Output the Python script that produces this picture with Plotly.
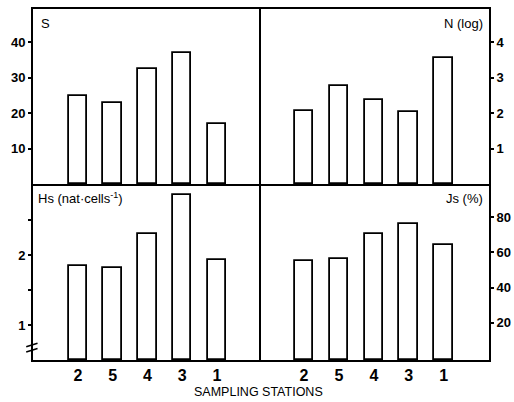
import plotly.graph_objects as go

# ---- data ----
stations = ["2", "5", "4", "3", "1"]
S_values = [24.8, 22.8, 32.4, 36.8, 16.8]
N_log_values = [2.05, 2.77, 2.37, 2.03, 3.55]
Hs_values = [1.85, 1.82, 2.31, 2.86, 1.93]
Js_values = [55.1, 56.4, 70.3, 76.2, 64.2]

S_ticks = [10, 20, 30, 40]
N_ticks = [1, 2, 3, 4]
Hs_ticks = [1, 1.5, 2, 2.5]
Hs_ticklabels = ["1", "", "2", ""]
Js_ticks = [20, 40, 60, 80]

FONT = "Liberation Sans, Arial, sans-serif"
W, H = 514, 402

left_dom = [33 / W, 259 / W]
right_dom = [259 / W, 489 / W]
top_dom = [1 - 184 / H, 1 - 9 / H]
bot_dom = [1 - 360 / H, 1 - 184 / H]

S_range = [0, 49.3]
N_range = [0, 4.93]
Hs_range = [0.5, 3.02]
Js_range = [-1.3, 99.0]

bar_style = dict(marker=dict(color="white", line=dict(color="black", width=1.8)),
                 width=0.53, showlegend=False, hoverinfo="x+y")

fig = go.Figure()
fig.add_trace(go.Bar(x=stations, y=S_values, xaxis="x", yaxis="y", **bar_style))
fig.add_trace(go.Bar(x=stations, y=N_log_values, xaxis="x2", yaxis="y2", **bar_style))
fig.add_trace(go.Bar(x=stations, y=[v - Hs_range[0] for v in Hs_values], base=Hs_range[0],
                     xaxis="x3", yaxis="y3", **bar_style))
fig.add_trace(go.Bar(x=stations, y=[v - Js_range[0] for v in Js_values], base=Js_range[0],
                     xaxis="x4", yaxis="y4", **bar_style))

line = dict(showline=True, linecolor="black", linewidth=2, showgrid=False, zeroline=False)
xcommon = dict(type="category", ticks="", **line)
ycommon = dict(ticks="outside", ticklen=3, tickwidth=2, tickcolor="black",
               tickfont=dict(family=FONT, size=13, color="black"), **line)
xlab_font = dict(family=FONT, size=16, color="black")


def bold(lbls):
    return ["<b>%s</b>" % l if l else "" for l in lbls]


fig.update_layout(
    width=W, height=H, autosize=False,
    margin=dict(l=0, r=0, t=0, b=0),
    paper_bgcolor="white", plot_bgcolor="white",
    bargap=0,
    xaxis=dict(domain=left_dom, anchor="y", range=[-1.29, 5.21], showticklabels=False,
               mirror=True, **xcommon),
    xaxis2=dict(domain=right_dom, anchor="y2", range=[-1.29, 5.3], showticklabels=False,
                mirror=True, **xcommon),
    xaxis3=dict(domain=left_dom, anchor="y3", range=[-1.29, 5.21], showticklabels=True,
                tickfont=xlab_font, tickvals=stations, ticktext=bold(stations),
                mirror=False, **xcommon),
    xaxis4=dict(domain=right_dom, anchor="y4", range=[-1.29, 5.3], showticklabels=True,
                tickfont=xlab_font, tickvals=stations, ticktext=bold(stations),
                mirror=False, **xcommon),
    yaxis=dict(domain=top_dom, anchor="x", side="left", range=S_range, mirror=True,
               tickvals=S_ticks, ticktext=bold([str(t) for t in S_ticks]), **ycommon),
    yaxis2=dict(domain=top_dom, anchor="x2", side="right", range=N_range, mirror=False,
                tickvals=N_ticks, ticktext=bold([str(t) for t in N_ticks]), **ycommon),
    yaxis3=dict(domain=bot_dom, anchor="x3", side="left", range=Hs_range, mirror=True,
                tickvals=Hs_ticks, ticktext=bold(Hs_ticklabels), **ycommon),
    yaxis4=dict(domain=bot_dom, anchor="x4", side="right", range=Js_range, mirror=False,
                tickvals=Js_ticks, ticktext=bold([str(t) for t in Js_ticks]), **ycommon),
)

lab_font = dict(family=FONT, size=13, color="black")
fig.add_annotation(text="S", xref="x domain", yref="y domain", x=0.025, y=0.97,
                   xanchor="left", yanchor="top", showarrow=False, font=lab_font)
fig.add_annotation(text="N (log)", xref="x2 domain", yref="y2 domain", x=0.982, y=0.97,
                   xanchor="right", yanchor="top", showarrow=False, font=lab_font)
fig.add_annotation(text="Hs (nat·cells<sup>-1</sup>)", xref="x3 domain", yref="y3 domain",
                   x=0.012, y=0.98, xanchor="left", yanchor="top", showarrow=False, font=lab_font)
fig.add_annotation(text="Js (%)", xref="x4 domain", yref="y4 domain", x=0.982, y=0.97,
                   xanchor="right", yanchor="top", showarrow=False, font=lab_font)
fig.add_annotation(text="SAMPLING STATIONS", xref="paper", yref="paper", x=258 / W, y=1 - 392 / H,
                   xanchor="center", yanchor="middle", showarrow=False,
                   font=dict(family=FONT, size=12.5, color="black"))

# axis-break mark on the Hs axis
for y0 in (0.045, 0.075):
    fig.add_shape(type="line", xref="x3 domain", yref="y3 domain",
                  x0=-0.03, x1=0.02, y0=y0, y1=y0 + 0.02,
                  line=dict(color="black", width=1.6))

fig.write_html("out.html", config={"displayModeBar": False},
               post_script="document.body.style.margin='0';document.body.style.padding='0';")
